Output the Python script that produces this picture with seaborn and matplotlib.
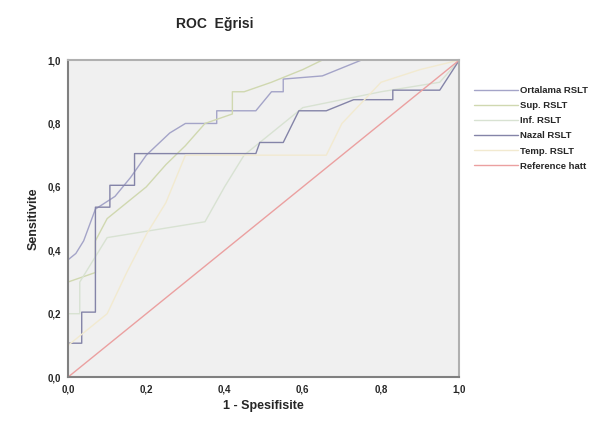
import matplotlib
matplotlib.use("Agg")
import matplotlib.pyplot as plt
import seaborn as sns
import pandas as pd

# ROC curves (1 - specificity, sensitivity)
ortalama_fpr = [0, 0, 0.02, 0.04, 0.07, 0.12, 0.16, 0.20, 0.26, 0.30, 0.38, 0.38, 0.48, 0.52, 0.55, 0.55, 0.65, 0.75, 1.0]
ortalama_tpr = [0, 0.37, 0.39, 0.43, 0.53, 0.57, 0.63, 0.70, 0.77, 0.80, 0.80, 0.84, 0.84, 0.90, 0.90, 0.94, 0.95, 1.0, 1.0]

sup_fpr = [0, 0, 0.07, 0.07, 0.10, 0.13, 0.20, 0.25, 0.30, 0.35, 0.42, 0.42, 0.45, 0.52, 0.60, 0.65, 1.0]
sup_tpr = [0, 0.30, 0.33, 0.43, 0.50, 0.53, 0.60, 0.67, 0.73, 0.80, 0.83, 0.90, 0.90, 0.93, 0.97, 1.0, 1.0]

inf_fpr = [0, 0, 0.03, 0.03, 0.10, 0.20, 0.35, 0.40, 0.45, 0.55, 0.60, 0.80, 0.95, 1.0]
inf_tpr = [0, 0.20, 0.20, 0.30, 0.44, 0.46, 0.49, 0.60, 0.70, 0.80, 0.85, 0.90, 0.93, 1.0]

nazal_fpr = [0, 0, 0.035, 0.035, 0.07, 0.07, 0.107, 0.107, 0.17, 0.17, 0.48, 0.49, 0.55, 0.59, 0.66, 0.73, 0.83, 0.83, 0.95, 1.0]
nazal_tpr = [0, 0.107, 0.107, 0.205, 0.205, 0.536, 0.536, 0.605, 0.605, 0.705, 0.705, 0.74, 0.74, 0.84, 0.84, 0.875, 0.875, 0.905, 0.905, 1.0]

temp_fpr = [0, 0, 0.10, 0.15, 0.20, 0.25, 0.30, 0.66, 0.70, 0.80, 0.90, 1.0]
temp_tpr = [0, 0.10, 0.20, 0.33, 0.45, 0.55, 0.70, 0.70, 0.80, 0.93, 0.97, 1.0]

ref_fpr = [0, 1]
ref_tpr = [0, 1]

names = ["Ortalama RSLT", "Sup. RSLT", "Inf. RSLT", "Nazal RSLT", "Temp. RSLT", "Reference hatt"]
colors = ["#a4a4c8", "#d0d8b0", "#d8e2d2", "#8484a8", "#f2ead0", "#eba0a0"]

frames = []
for n, fx, fy in zip(names,
                     [ortalama_fpr, sup_fpr, inf_fpr, nazal_fpr, temp_fpr, ref_fpr],
                     [ortalama_tpr, sup_tpr, inf_tpr, nazal_tpr, temp_tpr, ref_tpr]):
    frames.append(pd.DataFrame({"fpr": fx, "tpr": fy, "curve": n}))
df = pd.concat(frames, ignore_index=True)

sns.set_style("white")
plt.rcParams["font.family"] = ["Liberation Sans", "DejaVu Sans"]

fig = plt.figure(figsize=(6.02, 4.32), dpi=100)
ax = fig.add_axes([0.113, 0.127, 0.650, 0.734])
ax.set_facecolor("#f0f0f0")

sns.lineplot(data=df, x="fpr", y="tpr", hue="curve", hue_order=names,
             palette=dict(zip(names, colors)), sort=False, estimator=None,
             units="curve", linewidth=1.0, ax=ax)

ax.set_xlim(0, 1)
ax.set_ylim(0, 1)
ticks = [0, 0.2, 0.4, 0.6, 0.8, 1.0]
ax.set_xticks(ticks)
ax.set_yticks(ticks)
lbls = [f"{t:.1f}".replace(".", ",") for t in ticks]
ax.set_xticklabels(lbls, fontsize=7, fontweight="bold")
ax.set_yticklabels(lbls, fontsize=7, fontweight="bold")
ax.tick_params(direction="out", length=3, width=1, color="#808080", pad=2)

for s in ["top", "right"]:
    ax.spines[s].set_color("#b0b0b0")
    ax.spines[s].set_linewidth(1.5)
for s in ["left", "bottom"]:
    ax.spines[s].set_color("#808080")
    ax.spines[s].set_linewidth(1.5)

ax.set_xlabel("1 - Spesifisite", fontsize=9, fontweight="bold", labelpad=4)
ax.set_ylabel("Sensitivite", fontsize=9, fontweight="bold", labelpad=6)
fig.text(0.357, 0.945, "ROC  Eğrisi", fontsize=10, fontweight="bold", ha="center", va="center")

ax.legend(loc="upper left", bbox_to_anchor=(1.028, 0.93), frameon=False,
          prop={"weight": "bold", "size": 6.8}, handlelength=4.6,
          handletextpad=0.3, labelspacing=0.65, borderaxespad=0)

fig.savefig("out.png", dpi=100)
